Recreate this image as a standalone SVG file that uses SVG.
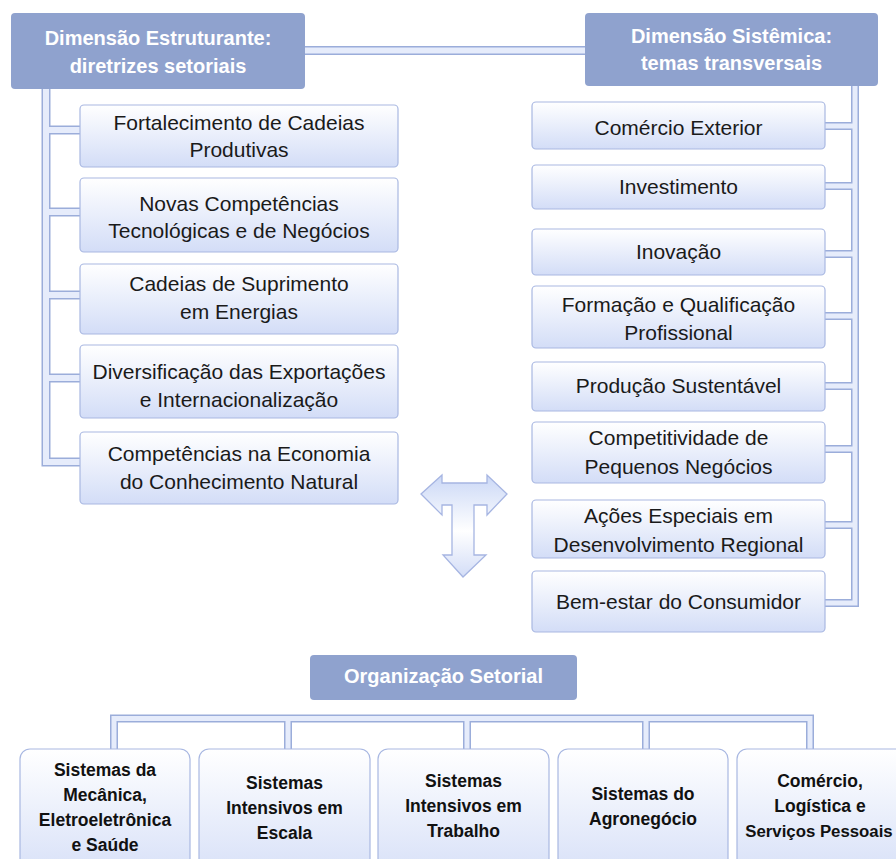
<svg xmlns="http://www.w3.org/2000/svg" width="896" height="859" viewBox="0 0 896 859">
<defs>
<linearGradient id="gBox" x1="0" y1="0" x2="0" y2="1">
<stop offset="0" stop-color="#ffffff"/>
<stop offset="1" stop-color="#d3ddf7"/>
</linearGradient>
<linearGradient id="gArrow" x1="0" y1="0" x2="0" y2="1">
<stop offset="0" stop-color="#cbd8f6"/>
<stop offset="0.55" stop-color="#ffffff"/>
<stop offset="1" stop-color="#d3ddf7"/>
</linearGradient>
<style>
.hdr{fill:#8fa2ce;}
.hdrt{font-family:"Liberation Sans",Arial,sans-serif;font-weight:bold;font-size:20px;fill:#ffffff;text-anchor:middle;}
.box{fill:url(#gBox);stroke:#a9b8e2;stroke-width:1.2;}
.t{font-family:"Liberation Sans",Arial,sans-serif;font-size:21px;fill:#1a1a1a;text-anchor:middle;}
.tb{font-family:"Liberation Sans",Arial,sans-serif;font-weight:bold;font-size:17.5px;fill:#111111;text-anchor:middle;}
.co{fill:none;stroke:#9badda;stroke-linejoin:miter;}
.ci{fill:none;stroke:#e6ecfb;stroke-linejoin:miter;}
</style>
</defs>
<rect width="896" height="859" fill="#ffffff"/>

<g id="connectors">
<path class="co" stroke-width="9" d="M303,50.5 H587"/>
<path class="ci" stroke-width="6" d="M303,50.5 H587"/>
<path class="co" stroke-width="9" d="M46,88 V130 H81 M46,88 V212 H81 M46,88 V295 H81 M46,88 V378 H81 M46,88 V462 H81"/>
<path class="ci" stroke-width="6" d="M46,88 V130 H81 M46,88 V212 H81 M46,88 V295 H81 M46,88 V378 H81 M46,88 V462 H81"/>
<path class="co" stroke-width="8" d="M824,126 H855 V85 M824,186 H855 V85 M824,254 H855 V85 M824,316 H855 V85 M824,386 H855 V85 M824,449 H855 V85 M824,525 H855 V85 M824,603 H855 V85"/>
<path class="ci" stroke-width="5" d="M824,126 H855 V85 M824,186 H855 V85 M824,254 H855 V85 M824,316 H855 V85 M824,386 H855 V85 M824,449 H855 V85 M824,525 H855 V85 M824,603 H855 V85"/>
<path class="co" stroke-width="8" d="M114,750 V718.5 H810 V750 M288,750 V718.5 M467,750 V718.5 M646,750 V718.5"/>
<path class="ci" stroke-width="5" d="M114,750 V718.5 H810 V750 M288,750 V718.5 M467,750 V718.5 M646,750 V718.5"/>
</g>

<g id="hdr-estruturante">
<rect class="hdr" x="11" y="13" width="294" height="76" rx="4"/>
<text class="hdrt" x="158" y="45">Dimensão Estruturante:</text>
<text class="hdrt" x="158" y="73">diretrizes setoriais</text>
</g>
<g id="hdr-sistemica">
<rect class="hdr" x="585" y="13" width="293" height="73" rx="4"/>
<text class="hdrt" x="731.5" y="43">Dimensão Sistêmica:</text>
<text class="hdrt" x="731.5" y="70">temas transversais</text>
</g>

<g id="l1"><rect class="box" x="80" y="105" width="318" height="62" rx="4"/>
<text class="t" x="239" y="130">Fortalecimento de Cadeias</text><text class="t" x="239" y="157">Produtivas</text></g>
<g id="l2"><rect class="box" x="80" y="178" width="318" height="74" rx="4"/>
<text class="t" x="239" y="211">Novas Competências</text><text class="t" x="239" y="238">Tecnológicas e de Negócios</text></g>
<g id="l3"><rect class="box" x="80" y="264" width="318" height="70" rx="4"/>
<text class="t" x="239" y="291">Cadeias de Suprimento</text><text class="t" x="239" y="319">em Energias</text></g>
<g id="l4"><rect class="box" x="80" y="345" width="318" height="73" rx="4"/>
<text class="t" x="239" y="379">Diversificação das Exportações</text><text class="t" x="239" y="407">e Internacionalização</text></g>
<g id="l5"><rect class="box" x="80" y="432" width="318" height="72" rx="4"/>
<text class="t" x="239" y="461">Competências na Economia</text><text class="t" x="239" y="489">do Conhecimento Natural</text></g>

<g id="r1"><rect class="box" x="532" y="102" width="293" height="47" rx="4"/>
<text class="t" x="678.5" y="135">Comércio Exterior</text></g>
<g id="r2"><rect class="box" x="532" y="165" width="293" height="44" rx="4"/>
<text class="t" x="678.5" y="194">Investimento</text></g>
<g id="r3"><rect class="box" x="532" y="229" width="293" height="46" rx="4"/>
<text class="t" x="678.5" y="259">Inovação</text></g>
<g id="r4"><rect class="box" x="532" y="286" width="293" height="62" rx="4"/>
<text class="t" x="678.5" y="312">Formação e Qualificação</text><text class="t" x="678.5" y="340">Profissional</text></g>
<g id="r5"><rect class="box" x="532" y="362" width="293" height="49" rx="4"/>
<text class="t" x="678.5" y="393">Produção Sustentável</text></g>
<g id="r6"><rect class="box" x="532" y="422" width="293" height="61" rx="4"/>
<text class="t" x="678.5" y="445">Competitividade de</text><text class="t" x="678.5" y="474">Pequenos Negócios</text></g>
<g id="r7"><rect class="box" x="532" y="500" width="293" height="58" rx="4"/>
<text class="t" x="678.5" y="523">Ações Especiais em</text><text class="t" x="678.5" y="552">Desenvolvimento Regional</text></g>
<g id="r8"><rect class="box" x="532" y="571" width="293" height="61" rx="4"/>
<text class="t" x="678.5" y="609">Bem-estar do Consumidor</text></g>

<g id="arrow">
<path d="M421,494 L442,475 L442,483 L487,483 L487,475 L507,494 L487,515 L487,505 L474,505 L474,555 L486,555 L463,577 L443,555 L452,555 L452,505 L442,505 L442,515 Z" fill="url(#gArrow)" stroke="#a6b5e2" stroke-width="1.3" stroke-linejoin="miter"/>
</g>

<g id="hdr-organizacao">
<rect class="hdr" x="310" y="655" width="267" height="45" rx="4"/>
<text class="hdrt" x="443.5" y="683">Organização Setorial</text>
</g>

<g id="b1"><rect class="box" x="20" y="749" width="170" height="140" rx="10"/>
<text class="tb" x="105" y="776">Sistemas da</text><text class="tb" x="105" y="801">Mecânica,</text><text class="tb" x="105" y="826">Eletroeletrônica</text><text class="tb" x="105" y="851">e Saúde</text></g>
<g id="b2"><rect class="box" x="199" y="749" width="171" height="140" rx="10"/>
<text class="tb" x="284.5" y="789">Sistemas</text><text class="tb" x="284.5" y="814">Intensivos em</text><text class="tb" x="284.5" y="839">Escala</text></g>
<g id="b3"><rect class="box" x="378" y="749" width="171" height="140" rx="10"/>
<text class="tb" x="463.5" y="787">Sistemas</text><text class="tb" x="463.5" y="812">Intensivos em</text><text class="tb" x="463.5" y="837">Trabalho</text></g>
<g id="b4"><rect class="box" x="558" y="749" width="170" height="140" rx="10"/>
<text class="tb" x="643" y="800">Sistemas do</text><text class="tb" x="643" y="825">Agronegócio</text></g>
<g id="b5"><rect class="box" x="737" y="749" width="171" height="140" rx="10"/>
<text class="tb" x="820" y="787">Comércio,</text><text class="tb" x="820" y="812">Logística e</text><text class="tb" x="819" y="837" style="font-size:16.8px">Serviços Pessoais</text></g>
</svg>
